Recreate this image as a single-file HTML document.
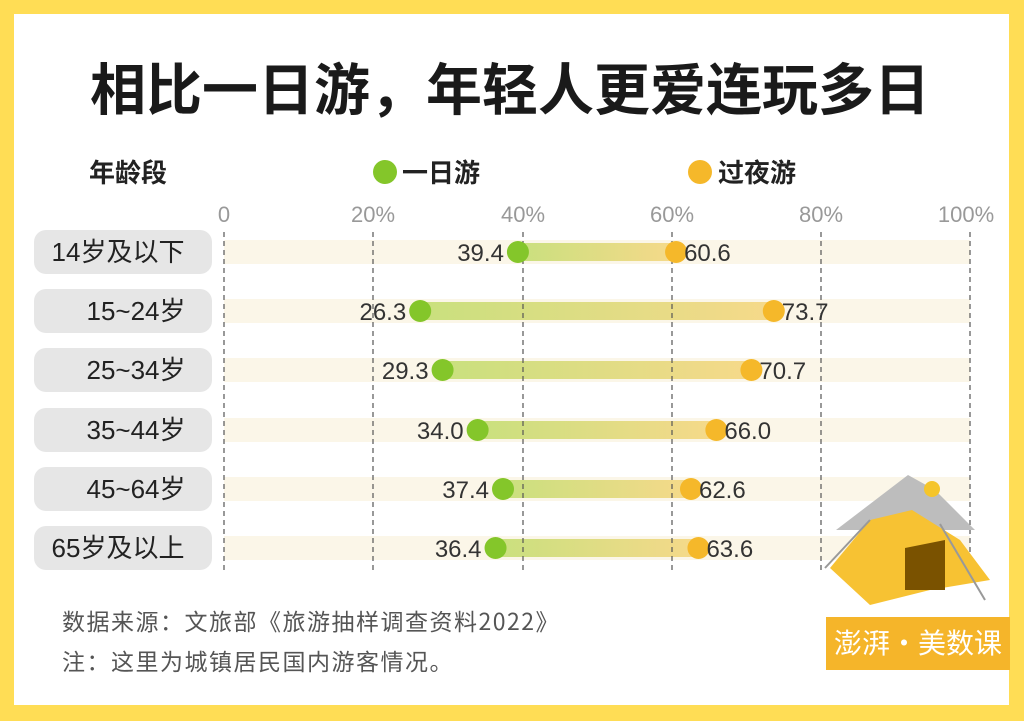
<!DOCTYPE html>
<html><head><meta charset="utf-8"><style>
html,body{margin:0;padding:0;}
body{width:1024px;height:721px;background:#FFDD55;position:relative;overflow:hidden;font-family:"Liberation Sans","Noto Sans CJK SC",sans-serif;}
</style></head><body>
<svg width="1024" height="721" style="position:absolute;left:0;top:0" font-family="Liberation Sans, Noto Sans CJK SC, sans-serif">
<defs>
<linearGradient id="g" x1="0" x2="1"><stop offset="0" stop-color="#C9E07E"/><stop offset="1" stop-color="#F6D98A"/></linearGradient>
</defs>
<rect x="14" y="14" width="995" height="691" fill="#fff"/>
<text x="510" y="110" text-anchor="middle" font-size="56" font-weight="bold" fill="#1a1a1a" font-family="Noto Sans CJK SC, sans-serif">相比一日游，年轻人更爱连玩多日</text>
<text x="128" y="182" text-anchor="middle" font-size="26" font-weight="bold" fill="#222" font-family="Noto Sans CJK SC, sans-serif">年龄段</text>
<circle cx="385" cy="172" r="12" fill="#84C62A"/>
<text x="402" y="182" font-size="26" font-weight="bold" fill="#222" font-family="Noto Sans CJK SC, sans-serif">一日游</text>
<circle cx="700" cy="172" r="12" fill="#F5B82A"/>
<text x="718" y="182" font-size="26" font-weight="bold" fill="#222" font-family="Noto Sans CJK SC, sans-serif">过夜游</text>
<g font-size="22" fill="#999" text-anchor="middle">
<text x="224" y="222">0</text><text x="373" y="222">20%</text><text x="523" y="222">40%</text><text x="672" y="222">60%</text><text x="821" y="222">80%</text><text x="966" y="222">100%</text>
</g>
<g id="rows"></g>
<g stroke="#555" stroke-width="1.2" stroke-dasharray="5,4">
<line x1="224" y1="232" x2="224" y2="572"/><line x1="373" y1="232" x2="373" y2="572"/><line x1="523" y1="232" x2="523" y2="572"/><line x1="672" y1="232" x2="672" y2="572"/><line x1="821" y1="232" x2="821" y2="572"/><line x1="970" y1="232" x2="970" y2="572"/>
</g>
<g id="dots"></g>
<text x="62" y="630" font-size="23" letter-spacing="1.5" fill="#555" font-family="Noto Sans CJK SC, sans-serif">数据来源：文旅部《旅游抽样调查资料2022》</text>
<text x="62" y="670" font-size="23" letter-spacing="1.5" fill="#555" font-family="Noto Sans CJK SC, sans-serif">注：这里为城镇居民国内游客情况。</text>
<!-- tent -->
<polygon points="836,530 908,475 935,490 975,530" fill="#BDBDBD"/>
<circle cx="932" cy="489" r="8" fill="#F5C52A"/>
<polygon points="830,568 870,520 912,510 960,540 990,580 930,590 870,605" fill="#F7C233"/>
<polygon points="905,548 945,540 945,590 905,590" fill="#7A5200"/>
<line x1="825" y1="568" x2="870" y2="520" stroke="#999" stroke-width="2"/>
<line x1="940" y1="524" x2="985" y2="600" stroke="#999" stroke-width="2"/>
<rect x="826" y="617" width="184" height="53" fill="#F5B52A"/>
<text x="918" y="653" text-anchor="middle" font-size="28" fill="#fff" font-family="Noto Sans CJK SC, sans-serif">澎湃·美数课</text>
</svg>
<script>
var d=[["14岁及以下",39.4,60.6],["15~24岁",26.3,73.7],["25~34岁",29.3,70.7],["35~44岁",34.0,66.0],["45~64岁",37.4,62.6],["65岁及以上",36.4,63.6]];
var ys=[252,311,370,430,489,548],r="",o="";
function X(v){return 224+7.46*v;}
d.forEach(function(e,i){var y=ys[i];
r+='<rect x="34" y="'+(y-22)+'" width="178" height="44" rx="12" fill="#E6E6E6"/>';
r+='<text x="'+(i==0||i==5?118:136)+'" y="'+(y+9)+'" text-anchor="middle" font-size="26" fill="#222" font-family="Liberation Sans, Noto Sans CJK SC, sans-serif">'+e[0]+'</text>';
r+='<rect x="224" y="'+(y-12)+'" width="746" height="24" fill="#FBF6E8"/>';
r+='<rect x="'+X(e[1])+'" y="'+(y-9)+'" width="'+(X(e[2])-X(e[1]))+'" height="18" fill="url(#g)"/>';
o+='<circle cx="'+X(e[1])+'" cy="'+y+'" r="11" fill="#84C62A"/><circle cx="'+X(e[2])+'" cy="'+y+'" r="11" fill="#F5B82A"/>';
o+='<text x="'+(X(e[1])-14)+'" y="'+(y+9)+'" text-anchor="end" font-size="24" fill="#333">'+e[1].toFixed(1)+'</text>';
o+='<text x="'+(X(e[2])+8)+'" y="'+(y+9)+'" font-size="24" fill="#333">'+e[2].toFixed(1)+'</text>';});
document.getElementById("rows").innerHTML=r;document.getElementById("dots").innerHTML=o;
</script>
</body></html>
